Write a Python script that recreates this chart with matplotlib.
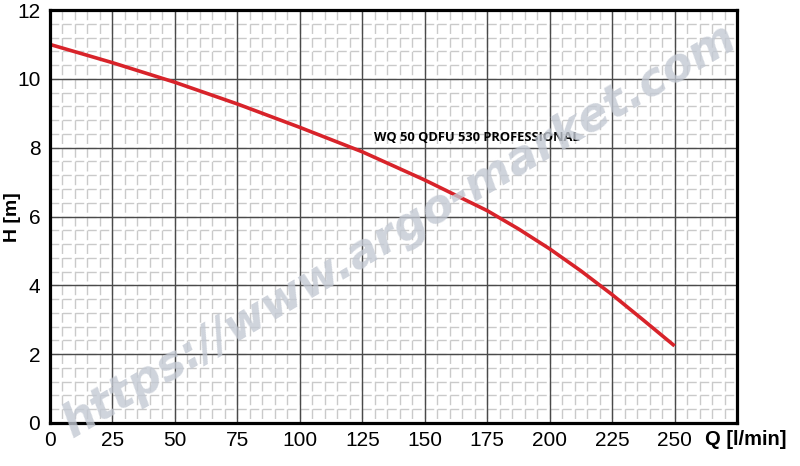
import numpy as np
import matplotlib
matplotlib.use("Agg")
import matplotlib.pyplot as plt

# pump curve
flow = [0, 25, 50, 75, 100, 125, 150, 175, 187.5, 200, 212.5, 225, 237.5, 250]
head = [11.0, 10.47, 9.9, 9.27, 8.59, 7.88, 7.06, 6.17, 5.64, 5.06, 4.42, 3.73, 2.99, 2.24]
x_ticks = [0, 25, 50, 75, 100, 125, 150, 175, 200, 225, 250]
y_ticks = [0, 2, 4, 6, 8, 10, 12]
model = "WQ 50 QDFU 530 PROFESSIONAL"
watermark = "https://www.argo-market.com"

plt.rcParams["font.family"] = ["Liberation Sans", "DejaVu Sans"]

fig = plt.figure(figsize=(8, 4.66), dpi=100)
ax = fig.add_axes([0.0625, 0.0923, 0.8588, 0.8862])
ax.set_xlim(0, 275)
ax.set_ylim(0, 12)

# light "graph paper" minor grid: dashes start at each cell corner
for xv in np.arange(0, 275.1, 5):
    ax.plot([xv, xv], [12, 0], color="#cacaca", lw=1.0,
            linestyle=(0, (7.0, 2.9)), zorder=1)
for yv in np.arange(0, 12.01, 0.4):
    ax.plot([0, 275], [yv, yv], color="#cacaca", lw=1.0,
            linestyle=(0, (6.3, 2.7)), zorder=1)

# major grid
for xv in x_ticks[1:]:
    ax.axvline(xv, color="#4a4a4a", lw=1.0, zorder=2)
for yv in y_ticks[1:]:
    ax.axhline(yv, color="#4a4a4a", lw=1.0, zorder=2)

fig.text(0.5, 0.505, watermark, rotation=30.5, ha="center", va="center",
         fontsize=33, fontweight="bold", style="italic",
         family="DejaVu Sans", color="#c3c9d3", alpha=0.8, zorder=3)

ax.plot(flow, head, color="#d8232a", lw=2.6, zorder=4, solid_capstyle="butt")

ax.text(171, 8.3, model, fontsize=9.3, fontweight="bold",
        family="Open Sans", ha="center", va="center", zorder=5)

ax.set_xticks(x_ticks)
ax.set_yticks(y_ticks)
ax.tick_params(length=0, labelsize=15)
ax.tick_params(axis="x", pad=6)
ax.tick_params(axis="y", pad=7)
for sp in ax.spines.values():
    sp.set_linewidth(2.3)
    sp.set_color("black")
    sp.set_zorder(6)

fig.text(0.016, 0.535, "H [m]", fontsize=14, fontweight="bold",
         rotation=90, ha="center", va="center")
fig.text(0.881, 0.056, "Q [l/min]", fontsize=14.5, fontweight="bold",
         ha="left", va="center")

fig.savefig("out.png", dpi=100)
